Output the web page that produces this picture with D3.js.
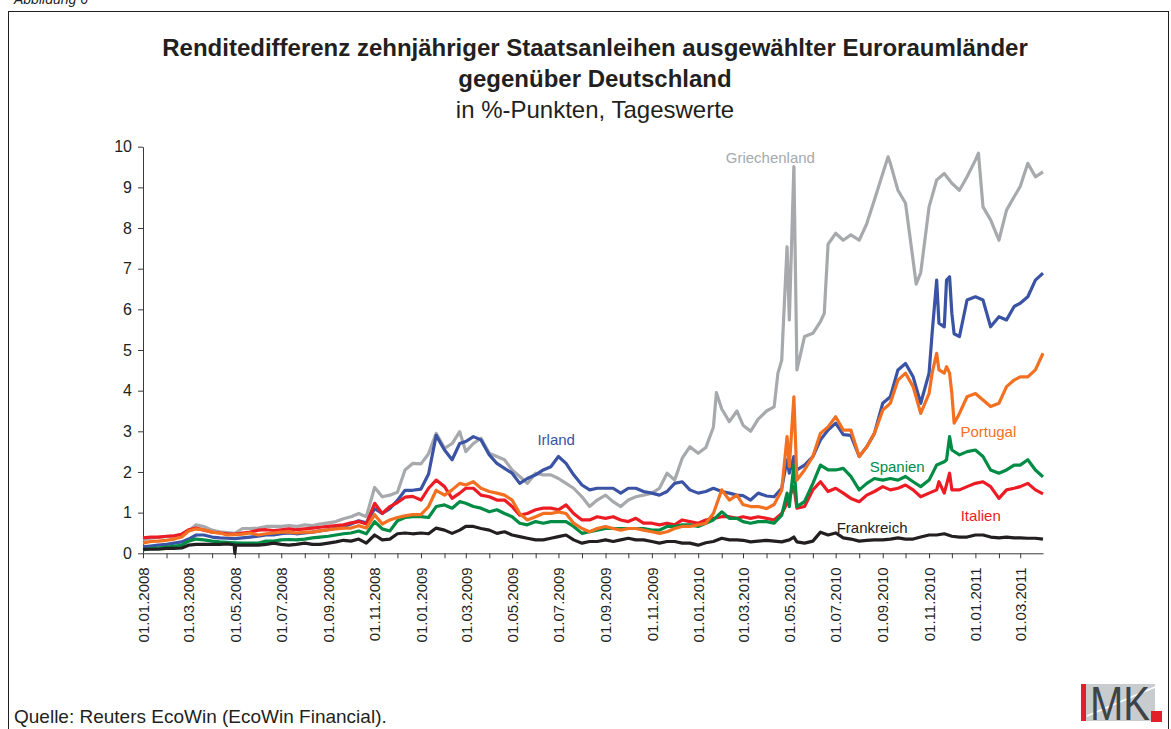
<!DOCTYPE html>
<html>
<head>
<meta charset="utf-8">
<script src="https://d3js.org/d3.v7.min.js"></script>
<style>
  body { margin: 0; background: #fff; }
  svg { font-family: "Liberation Sans", Arial, sans-serif; }
</style>
</head>
<body>
<script>
// Stichtage (1., 11., 21. jedes Monats) fuer die Dekadenwerte
const dekaden = [
  "2008-01-01","2008-01-11","2008-01-21","2008-02-01","2008-02-11","2008-02-21",
  "2008-03-01","2008-03-11","2008-03-21","2008-04-01","2008-04-11","2008-04-21",
  "2008-05-01","2008-05-11","2008-05-21","2008-06-01","2008-06-11","2008-06-21",
  "2008-07-01","2008-07-11","2008-07-21","2008-08-01","2008-08-11","2008-08-21",
  "2008-09-01","2008-09-11","2008-09-21","2008-10-01","2008-10-11","2008-10-21",
  "2008-11-01","2008-11-11","2008-11-21","2008-12-01","2008-12-11","2008-12-21",
  "2009-01-01","2009-01-11","2009-01-21",
  "2009-02-01","2009-02-11","2009-02-21","2009-03-01","2009-03-11","2009-03-21",
  "2009-04-01","2009-04-11","2009-04-21","2009-05-01","2009-05-11","2009-05-21",
  "2009-06-01","2009-06-11","2009-06-21","2009-07-01","2009-07-11","2009-07-21",
  "2009-08-01","2009-08-11","2009-08-21","2009-09-01","2009-09-11","2009-09-21",
  "2009-10-01","2009-10-11","2009-10-21","2009-11-01","2009-11-11","2009-11-21",
  "2009-12-01","2009-12-11","2009-12-21","2010-01-01","2010-01-11","2010-01-21",
  "2010-02-01","2010-02-11","2010-02-21",
  "2010-03-01","2010-03-11","2010-03-21","2010-04-01","2010-04-11","2010-04-21",
  "2010-05-01","2010-05-11","2010-05-21","2010-06-01","2010-06-11","2010-06-21",
  "2010-07-01","2010-07-11","2010-07-21","2010-08-01","2010-08-11","2010-08-21",
  "2010-09-01","2010-09-11","2010-09-21","2010-10-01","2010-10-11","2010-10-21",
  "2010-11-01","2010-11-11","2010-11-21","2010-12-01","2010-12-11","2010-12-21",
  "2011-01-01","2011-01-11","2011-01-21","2011-02-01","2011-02-11","2011-02-21",
  "2011-03-01","2011-03-11","2011-03-21","2011-03-31"
];

const griechenland = [
  .33,.37,.39,.41,.43,.46,.55,.70,.66,.57,.53,.51,.49,.61,.61,.62,.66,.66,
  .66,.68,.66,.70,.68,.72,.75,.78,.85,.90,.98,.90,1.62,1.39,1.43,1.50,2.05,2.21,
  2.20,2.45,2.95,
  2.58,2.70,2.99,2.50,2.70,2.83,2.46,2.38,2.30,2.05,1.89,1.72,1.97,1.93,1.93,1.84,1.72,1.60,
  1.39,1.15,1.31,1.43,1.27,1.15,1.31,1.39,1.43,1.48,1.60,1.97,1.80,2.34,2.62,2.46,2.60,3.10,
  3.55,3.24,3.50,
  3.15,3.00,3.30,3.50,3.60,4.75,5.74,4.51,5.33,5.41,5.70,7.60,7.87,7.70,7.83,7.70,8.11,8.69,
  9.34,9.59,8.93,8.61,7.20,6.90,8.52,9.18,9.34,9.10,8.93,9.26,9.67,8.52,8.20,7.70,8.44,8.77,
  9.02,9.59,9.26,9.38
];
const irland = [
  .16,.18,.20,.22,.25,.28,.35,.45,.45,.40,.38,.37,.36,.38,.40,.42,.45,.45,
  .48,.50,.48,.50,.52,.55,.58,.62,.66,.72,.80,.75,1.10,.98,1.10,1.30,1.55,1.55,
  1.58,1.95,2.90,
  2.54,2.30,2.70,2.75,2.87,2.79,2.42,2.21,2.09,1.97,1.72,1.84,1.93,2.05,2.13,2.38,2.21,1.93,
  1.68,1.56,1.60,1.60,1.60,1.48,1.60,1.60,1.52,1.48,1.43,1.52,1.72,1.76,1.56,1.48,1.52,1.60,
  1.52,1.48,1.43,
  1.42,1.31,1.48,1.41,1.39,1.60,1.97,2.05,2.17,2.38,2.79,3.03,3.20,2.92,2.90,2.38,2.62,2.95,
  3.69,3.85,4.51,4.67,4.34,3.69,4.43,6.72,5.57,5.90,5.33,6.23,6.31,6.23,5.57,5.82,5.74,6.07,
  6.15,6.31,6.72,6.89
];
const portugal = [
  .25,.29,.30,.32,.35,.40,.55,.60,.58,.52,.50,.45,.46,.47,.50,.45,.48,.50,
  .52,.52,.50,.52,.52,.55,.58,.60,.62,.62,.68,.62,.95,.72,.82,.88,.92,.95,
  .95,1.15,1.55,
  1.43,1.56,1.72,1.68,1.76,1.60,1.52,1.48,1.43,1.31,.98,.82,.90,.98,.98,1.02,.98,.74,
  .61,.53,.61,.66,.61,.57,.61,.61,.57,.53,.49,.53,.61,.66,.66,.70,.74,.98,
  1.56,1.31,1.43,
  1.20,1.15,1.15,1.10,1.20,1.55,2.13,1.80,2.05,2.38,2.95,3.11,3.36,3.03,3.03,2.38,2.62,2.95,
  3.52,3.69,4.26,4.43,4.10,3.44,3.93,4.92,4.43,3.93,3.44,3.85,3.93,3.77,3.61,3.69,4.10,4.26,
  4.34,4.34,4.51,4.92
];
const spanien = [
  .08,.12,.13,.15,.17,.20,.30,.35,.33,.30,.28,.27,.26,.25,.25,.25,.30,.30,
  .33,.34,.33,.35,.38,.40,.42,.45,.48,.50,.55,.48,.78,.60,.55,.80,.88,.90,
  .90,.88,1.15,
  1.19,1.11,1.27,1.23,1.15,1.11,1.02,1.07,.98,.90,.74,.70,.78,.74,.78,.78,.78,.66,
  .49,.53,.57,.61,.61,.61,.61,.61,.61,.57,.57,.66,.66,.70,.70,.66,.74,.82,
  1.02,.86,.86,
  .78,.74,.78,.78,.74,.94,1.15,1.15,1.27,1.72,2.17,2.05,2.05,2.09,1.89,1.56,1.72,1.84,
  1.80,1.84,1.80,1.89,1.76,1.64,1.80,2.17,2.25,2.54,2.42,2.50,2.54,2.38,2.05,1.97,2.05,2.17,
  2.17,2.30,2.05,1.88
];
const italien = [
  .38,.40,.40,.42,.43,.47,.58,.62,.57,.52,.50,.48,.47,.50,.52,.57,.58,.56,
  .58,.60,.58,.60,.62,.64,.66,.68,.70,.75,.78,.72,1.23,.98,1.15,1.25,1.38,1.40,
  1.31,1.60,1.80,
  1.64,1.35,1.48,1.60,1.60,1.43,1.39,1.31,1.31,1.15,.94,.98,1.07,1.11,1.11,1.07,1.19,.98,
  .82,.82,.90,.86,.90,.82,.78,.86,.74,.74,.70,.74,.70,.82,.78,.74,.82,.86,
  .90,.90,.86,
  .90,.86,.90,.86,.82,.98,1.39,1.11,1.15,1.56,1.76,1.52,1.60,1.48,1.35,1.27,1.43,1.52,
  1.64,1.56,1.60,1.68,1.56,1.39,1.48,1.56,1.48,1.56,1.56,1.64,1.72,1.76,1.64,1.35,1.56,1.60,
  1.64,1.72,1.56,1.46
];
const frankreich = [
  .10,.10,.10,.12,.12,.13,.20,.22,.22,.22,.22,.23,.00,.20,.20,.20,.22,.25,
  .22,.20,.22,.25,.22,.22,.25,.28,.32,.30,.35,.25,.45,.33,.35,.48,.50,.48,
  .50,.48,.62,
  .57,.49,.57,.66,.66,.61,.57,.49,.53,.45,.41,.37,.33,.33,.37,.41,.45,.33,
  .25,.29,.29,.33,.29,.33,.37,.33,.33,.29,.25,.29,.29,.25,.25,.20,.26,.29,
  .37,.33,.33,
  .32,.28,.30,.32,.30,.28,.33,.28,.25,.30,.52,.45,.50,.38,.35,.30,.32,.33,
  .33,.35,.38,.35,.35,.40,.45,.45,.48,.42,.40,.40,.45,.45,.40,.38,.40,.38,
  .38,.37,.37,.35
];

// zusaetzliche Tageswerte an Spitzen
const griechenlandSpitzen = [["2010-01-25",3.95],["2010-04-16",4.43],["2010-04-23",5.57],
  ["2010-04-28",7.54],["2010-05-07",9.51],["2010-06-16",5.90],["2010-09-08",9.75],
  ["2010-10-15",6.62],["2011-01-05",9.84]];
const irlandSpitzen = [["2010-04-28",2.30],["2010-05-07",2.38],["2010-11-05",5.41],
  ["2010-11-14",5.66],["2010-11-24",6.72],["2010-11-28",6.80],["2010-12-04",5.40]];
const portugalSpitzen = [["2010-04-28",2.87],["2010-05-07",3.85],["2010-11-05",4.43],
  ["2010-11-14",4.51],["2010-11-24",4.59],["2010-11-28",4.43],["2010-12-04",3.20]];
const spanienSpitzen = [["2010-04-28",1.48],["2010-05-07",2.17],["2010-11-24",2.30],["2010-11-28",2.87]];
const italienSpitzen = [["2010-04-28",1.23],["2010-05-07",1.64],["2010-11-14",1.76],["2010-11-28",1.97]];
const frankreichSpitzen = [["2008-04-30",0.21],["2008-05-02",0.20],["2010-05-07",0.40]];

const yTicks = [0,1,2,3,4,5,6,7,8,9,10];

const width = 1171, height = 729;
const svg = d3.select("body").append("svg")
    .attr("width", width).attr("height", height);

const parse = d3.utcParse("%Y-%m-%d");
const x = d3.scaleUtc()
    .domain([parse("2008-01-01"), parse("2011-03-31")])
    .range([143, 1043]);
const y = d3.scaleLinear().domain([0, 10]).range([553.3, 146.7]);

// Rahmen + Kopf
svg.append("text").attr("x", 14).attr("y", 4)
    .style("font-size", "14px").style("font-style", "italic").attr("fill", "#231f20")
    .text("Abbildung 6");
svg.append("rect").attr("x", 8.5).attr("y", 11.5).attr("width", 1160).attr("height", 740)
    .attr("fill", "none").attr("stroke", "#231f20").attr("stroke-width", 1);

const title = svg.append("g").attr("fill", "#231f20").attr("text-anchor", "middle");
title.append("text").attr("x", 595).attr("y", 56)
    .style("font-size", "24px").style("font-weight", "bold")
    .text("Renditedifferenz zehnjähriger Staatsanleihen ausgewählter Euroraumländer");
title.append("text").attr("x", 595).attr("y", 87)
    .style("font-size", "24px").style("font-weight", "bold")
    .text("gegenüber Deutschland");
title.append("text").attr("x", 595).attr("y", 118)
    .style("font-size", "24px")
    .text("in %-Punkten, Tageswerte");

// Achsen
const yAxis = svg.append("g").attr("transform", "translate(143,0)")
    .call(d3.axisLeft(y).tickValues(yTicks).tickSize(5).tickSizeOuter(0).tickPadding(6));
yAxis.selectAll("text").style("font-size", "16px").attr("fill", "#231f20");

const fmt = d3.utcFormat("%d.%m.%Y");
const xAxis = svg.append("g").attr("transform", "translate(0,553.3)")
    .call(d3.axisBottom(x).ticks(d3.utcMonth.every(1)).tickSize(5).tickSizeOuter(0)
      .tickFormat(d => d.getUTCMonth() % 2 === 0 ? fmt(d) : ""));
xAxis.selectAll("text")
    .style("font-size", "15px").attr("fill", "#231f20")
    .attr("text-anchor", "end")
    .attr("transform", "rotate(-90)")
    .attr("x", -14).attr("y", 0).attr("dy", "0.35em");
svg.selectAll(".domain, .tick line").attr("stroke", "#3a3a3a");

// Linien
function reihe(werte, spitzen) {
  const pts = dekaden.map((d, i) => [parse(d), werte[i]]);
  spitzen.forEach(s => pts.push([parse(s[0]), s[1]]));
  return pts.sort((a, b) => a[0] - b[0]);
}
const line = d3.line().x(d => x(d[0])).y(d => y(d[1]));

const serien = [
  { name: "Griechenland", werte: griechenland, spitzen: griechenlandSpitzen, farbe: "#a7a9ac",
    lx: "2010-04-06", ly: 9.6 },
  { name: "Irland", werte: irland, spitzen: irlandSpitzen, farbe: "#3a53a4",
    lx: "2009-06-28", ly: 2.66 },
  { name: "Italien", werte: italien, spitzen: italienSpitzen, farbe: "#ed1c24",
    lx: "2011-01-08", ly: 0.79 },
  { name: "Spanien", werte: spanien, spitzen: spanienSpitzen, farbe: "#008c45",
    lx: "2010-09-20", ly: 2.0 },
  { name: "Portugal", werte: portugal, spitzen: portugalSpitzen, farbe: "#f37021",
    lx: "2011-01-18", ly: 2.86 },
  { name: "Frankreich", werte: frankreich, spitzen: frankreichSpitzen, farbe: "#231f20",
    lx: "2010-08-18", ly: 0.5 }
];

serien.forEach(s => {
  svg.append("path").datum(reihe(s.werte, s.spitzen))
      .attr("fill", "none").attr("stroke", s.farbe)
      .attr("stroke-width", 3.2).attr("stroke-linejoin", "round")
      .attr("d", line);
});
serien.forEach(s => {
  svg.append("text").attr("x", x(parse(s.lx))).attr("y", y(s.ly))
      .attr("text-anchor", "middle").attr("fill", s.farbe)
      .style("font-size", "15px").text(s.name);
});

// Quelle
svg.append("text").attr("x", 14).attr("y", 723)
    .style("font-size", "19px").attr("fill", "#231f20")
    .text("Quelle: Reuters EcoWin (EcoWin Financial).");

// IMK-Logo
const logo = svg.append("g");
logo.append("rect").attr("x", 1081).attr("y", 684).attr("width", 74).attr("height", 37).attr("fill", "#c9cccf");
logo.append("line").attr("x1", 1087).attr("y1", 716).attr("x2", 1155).attr("y2", 687)
    .attr("stroke", "#fff").attr("stroke-width", 1.5);
logo.append("rect").attr("x", 1081).attr("y", 684).attr("width", 5).attr("height", 37).attr("fill", "#e3202a");
logo.append("text").attr("x", 1090).attr("y", 720).attr("textLength", 60).attr("lengthAdjust", "spacingAndGlyphs")
    .style("font-size", "48px").attr("fill", "#3d4347").text("MK");
logo.append("rect").attr("x", 1151).attr("y", 711).attr("width", 11).attr("height", 11).attr("fill", "#e3202a");
</script>
</body>
</html>
